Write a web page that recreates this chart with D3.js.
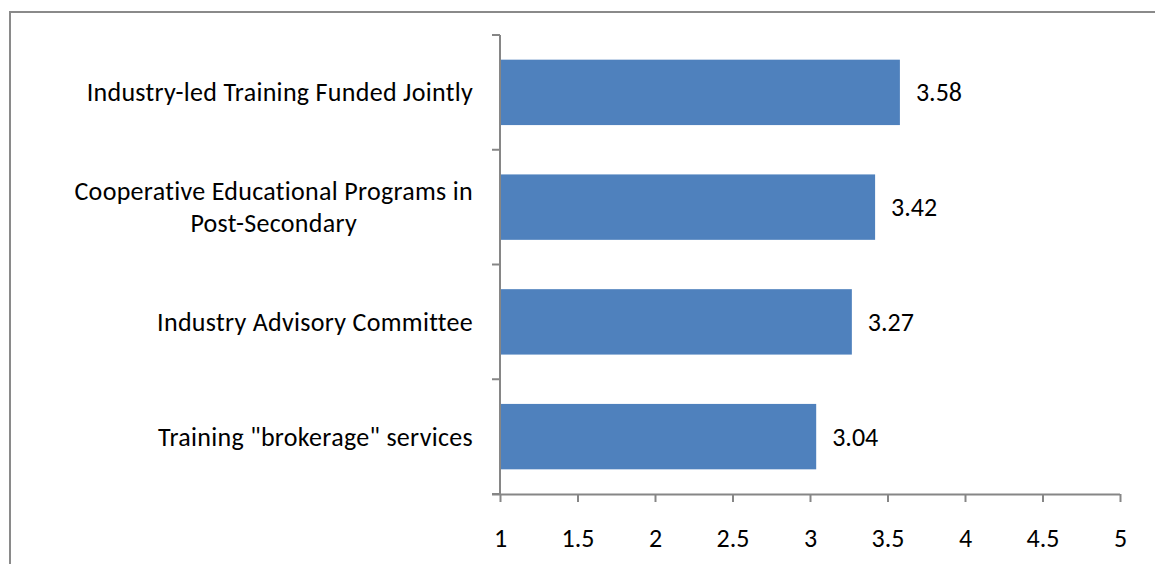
<!DOCTYPE html>
<html><head><meta charset="utf-8">
<script src="https://cdn.jsdelivr.net/npm/d3@7"></script>
<style>body{margin:0;background:#fff}svg{display:block}text{font-family:Carlito,Lato,"Open Sans",sans-serif;fill:#000;font-variant-ligatures:none;font-feature-settings:"liga" 0}</style>
</head><body><svg id="c" width="1155" height="564"></svg>
<script>
const categories = [["Industry-led Training Funded Jointly"], ["Cooperative Educational Programs in","Post-Secondary"], ["Industry Advisory Committee"], ["Training \"brokerage\" services"]];
const values = [3.58, 3.42, 3.27, 3.04];
const valueLabels = ["3.58","3.42","3.27","3.04"];
const xTicks = [1,1.5,2,2.5,3,3.5,4,4.5,5];
const xTickLabels = ["1","1.5","2","2.5","3","3.5","4","4.5","5"];

const svg = d3.select("#c");
svg.append("path").attr("d","M10,564 V12 H1155").attr("fill","none").attr("stroke","#8a8a8a").attr("stroke-width",2);

const x = d3.scaleLinear().domain([1,5]).range([500,1120]);
const y = d3.scaleBand().domain(d3.range(categories.length)).range([35,494]).paddingInner(0.43).paddingOuter(0.215);
const fs = 26;

// bars
svg.selectAll("rect.bar").data(values).join("rect").attr("class","bar")
  .attr("x",x(1)).attr("y",(d,i)=>y(i)).attr("width",d=>x(d)-x(1)).attr("height",y.bandwidth()).attr("fill","#4F81BD");

// x axis
const xa = svg.append("g").attr("transform","translate(0,494)")
  .call(d3.axisBottom(x).tickValues(xTicks).tickFormat((d,i)=>xTickLabels[i]).tickSize(8).tickSizeOuter(0).tickPadding(27));
xa.select(".domain").attr("stroke","#868686").attr("stroke-width",2).attr("d","M492,0.5H1120");
xa.selectAll(".tick line").attr("stroke","#868686").attr("stroke-width",2);
xa.selectAll("text").attr("font-size",fs).attr("font-family",null).style("fill","#000");

// y axis
const yb = d3.scaleLinear().domain([0,4]).range([35,494]);
const ya = svg.append("g").attr("transform","translate(500,0)");
ya.append("line").attr("x1",0).attr("x2",0).attr("y1",35).attr("y2",494).attr("stroke","#868686").attr("stroke-width",2);
ya.selectAll("line.t").data(d3.range(5)).join("line").attr("class","t").attr("x1",-8).attr("x2",0)
  .attr("y1",d=>yb(d)).attr("y2",d=>yb(d)).attr("stroke","#868686").attr("stroke-width",2);

// category labels
categories.forEach((lines,i)=>{
  const cy = y(i)+y.bandwidth()/2;
  const g = svg.append("g");
  const lh = 32;
  const ts = lines.map((l,j)=>g.append("text").attr("font-size",fs).attr("dominant-baseline","central")
     .attr("letter-spacing","0.3px")
     .attr("y",cy+(j-(lines.length-1)/2)*lh).text(l));
  const ws = ts.map(t=>t.node().getComputedTextLength());
  const mw = d3.max(ws);
  const right = 473;
  ts.forEach(t=>t.attr("text-anchor","middle").attr("x",right-mw/2));
});

// value labels
svg.selectAll("text.val").data(values).join("text").attr("class","val")
  .attr("x",d=>x(d)+16).attr("y",(d,i)=>y(i)+y.bandwidth()/2).attr("dominant-baseline","central")
  .attr("font-size",fs).text((d,i)=>valueLabels[i]);
</script></body></html>
